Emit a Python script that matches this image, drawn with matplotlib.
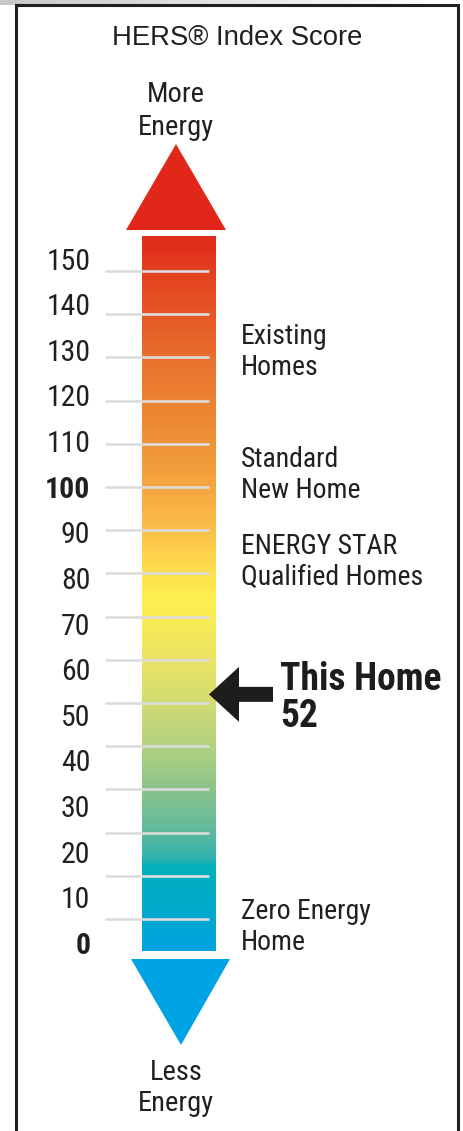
import numpy as np
import matplotlib.pyplot as plt
from matplotlib.colors import LinearSegmentedColormap
from matplotlib.patches import Polygon

# HERS scale
tick_values = [150, 140, 130, 120, 110, 100, 90, 80, 70, 60, 50, 40, 30, 20, 10, 0]
bold_ticks = [100, 0]
home_score = 52

bands = ["Existing\nHomes", "Standard\nNew Home", "ENERGY STAR\nQualified Homes", "Zero Energy\nHome"]
band_scores = [130, 103, 84, 4]

# colour stops of the bar (score -> colour)
stop_scores = [-7.4, 0, 11.8, 13.7, 20, 30, 40, 50, 60, 74, 80, 90, 100, 110, 130, 150, 157.9]
stop_colors = ['#00a4e2', '#00a9cf', '#00b0bc', '#30b3af', '#5fba9e', '#8dc48b', '#b3d27f',
               '#d2dc73', '#ebe463', '#fff050', '#fee04e', '#fbc049', '#f5a63f', '#ef9438',
               '#e8702d', '#e3401f', '#e02b1b']

# layout: pixel rows of the 464x1131 picture -> score units
W, H = 464, 1131
PX = 4.32          # pixels per score point on the rule lines
ZERO_ROW = 919     # row of the 0 rule


def row(y):
    return (ZERO_ROW - y) / PX


def label_y(v):
    # printed numbers sit on a slightly wider pitch than the rules
    return row(943 - 4.563 * v)


NARROW = ['Roboto Condensed', 'Archivo Narrow', 'DejaVu Sans']
NARROW_BOLD = ['Roboto Condensed', 'IBM Plex Sans Condensed', 'DejaVu Sans']
TXT = '#231f20'

fig = plt.figure(figsize=(W / 100, H / 100), dpi=100)
ax = fig.add_axes([0, 0, 1, 1])
ax.set_xlim(0, W)
ax.set_ylim(row(H), row(0))
ax.set_axis_off()

# faint shadow above the frame
shade = np.linspace(0.78, 1.0, 200)[None, :]
ax.imshow(shade, cmap='gray', vmin=0, vmax=1, extent=[0, 430, row(5), row(0)],
          aspect='auto', zorder=0)

# frame (open at the bottom)
ax.plot([16, 16, 458, 458], [row(H + 5), row(5), row(5), row(H + 5)],
        color=TXT, lw=2.2, solid_joinstyle='miter', zorder=5)

# gradient bar
lo, hi = stop_scores[0], stop_scores[-1]
pos = [(s - lo) / (hi - lo) for s in stop_scores]
cmap = LinearSegmentedColormap.from_list('hers', list(zip(pos, stop_colors)))
grad = np.linspace(0, 1, 600)[:, None]
ax.imshow(grad, cmap=cmap, origin='lower', extent=[142, 216, lo, hi],
          aspect='auto', interpolation='bilinear', zorder=1)

# rules
ax.hlines(tick_values, 105, 209, color='#dcdcdc', lw=1.9, zorder=2)

# number labels
for v in tick_values:
    bold = v in bold_ticks
    ax.text(90.5, label_y(v), str(v), ha='right', va='center_baseline',
            fontsize=21.5, family=NARROW_BOLD if bold else NARROW, color=TXT,
            fontweight='bold' if bold else 'normal')

# up / down triangles
ax.add_patch(Polygon([(126, row(230)), (226, row(230)), (176, row(144))],
                     closed=True, color='#e02719', lw=0, zorder=2))
ax.add_patch(Polygon([(131, row(959)), (230, row(959)), (181, row(1045))],
                     closed=True, color='#00a3e4', lw=0, zorder=2))

ax.text(237.5, row(45), "HERS\u00ae Index Score", ha='center', va='baseline',
        fontsize=19.8, family=['Liberation Sans', 'DejaVu Sans'], color=TXT)
# va='baseline' on multi-line text pins the last line
ax.text(176, row(135), "More\nEnergy", ha='center', va='baseline',
        fontsize=20.5, family=NARROW, color=TXT, linespacing=1.3)
ax.text(176, row(1111), "Less\nEnergy", ha='center', va='baseline',
        fontsize=20.5, family=NARROW, color=TXT, linespacing=1.2)

# category notes
for name, s in zip(bands, band_scores):
    ax.text(241, label_y(s) - 25 / PX, name, ha='left', va='baseline',
            fontsize=20, family=NARROW, color=TXT, linespacing=1.17)

# this home arrow
hh, sh = 27.5 / PX, 7.5 / PX
y0 = home_score
ax.add_patch(Polygon([(209, y0), (239, y0 + hh), (239, y0 + sh), (273, y0 + sh),
                      (273, y0 - sh), (239, y0 - sh), (239, y0 - hh)],
                     closed=True, color='#1d1d1b', lw=0, zorder=3))
ax.text(280, y0 - 33 / PX, f"This Home\n{home_score}", ha='left', va='baseline',
        fontsize=27, fontweight='bold', family=NARROW_BOLD, color='#1d1d1b',
        linespacing=1.0)

fig.savefig('out.png', dpi=100)
